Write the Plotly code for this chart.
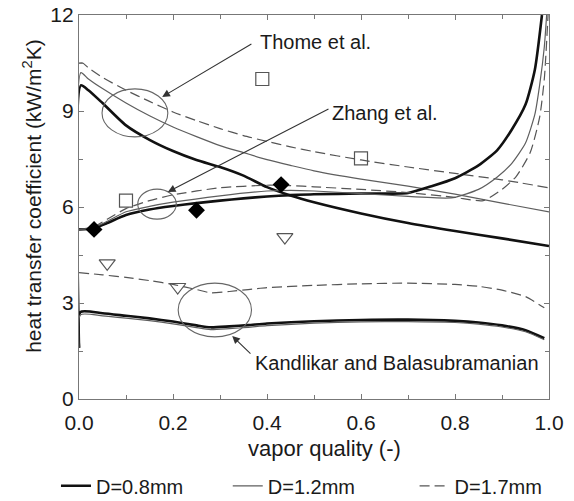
import plotly.graph_objects as go

# ---------------- data ----------------
# Thome et al.
thome_x_08 = [0.0, 0.004, 0.02, 0.05, 0.1, 0.15, 0.2, 0.25, 0.3, 0.35, 0.4, 0.45, 0.5, 0.6, 0.7, 0.8, 0.9, 1.0]
thome_y_08 = [1.6, 9.8, 9.65, 9.25, 8.55, 8.1, 7.75, 7.47, 7.25, 6.98, 6.62, 6.36, 6.15, 5.8, 5.5, 5.25, 5.02, 4.78]
thome_x_12 = [0.0, 0.004, 0.02, 0.05, 0.1, 0.15, 0.2, 0.25, 0.3, 0.35, 0.4, 0.45, 0.5, 0.6, 0.7, 0.8, 0.9, 1.0]
thome_y_12 = [1.7, 10.2, 10.0, 9.7, 9.25, 8.85, 8.5, 8.2, 7.92, 7.7, 7.48, 7.3, 7.13, 6.87, 6.65, 6.4, 6.12, 5.85]
thome_x_17 = [0.0, 0.008, 0.02, 0.05, 0.1, 0.15, 0.2, 0.25, 0.3, 0.35, 0.4, 0.45, 0.5, 0.6, 0.7, 0.8, 0.9, 1.0]
thome_y_17 = [10.5, 10.5, 10.35, 10.05, 9.65, 9.3, 8.97, 8.7, 8.45, 8.23, 8.05, 7.88, 7.73, 7.47, 7.25, 7.05, 6.85, 6.6]

# Zhang et al.
zhang_x_08 = [0.0, 0.03, 0.06, 0.1, 0.15, 0.2, 0.25, 0.3, 0.35, 0.4, 0.45, 0.5, 0.6, 0.7, 0.75, 0.8, 0.85, 0.89, 0.92, 0.95, 0.97, 0.985]
zhang_y_08 = [5.3, 5.33, 5.5, 5.75, 5.92, 6.03, 6.12, 6.2, 6.27, 6.33, 6.37, 6.4, 6.42, 6.44, 6.65, 6.9, 7.3, 7.78, 8.4, 9.2, 10.3, 12.0]
zhang_x_12 = [0.0, 0.03, 0.06, 0.1, 0.15, 0.2, 0.3, 0.4, 0.45, 0.5, 0.6, 0.7, 0.78, 0.8, 0.85, 0.89, 0.92, 0.95, 0.97, 0.98, 0.99, 0.995]
zhang_y_12 = [5.3, 5.35, 5.55, 5.85, 6.02, 6.15, 6.35, 6.5, 6.52, 6.5, 6.42, 6.33, 6.28, 6.3, 6.55, 6.94, 7.35, 8.0, 8.9, 9.8, 11.0, 12.0]
zhang_x_17 = [0.0, 0.03, 0.06, 0.1, 0.15, 0.2, 0.3, 0.4, 0.45, 0.5, 0.6, 0.7, 0.8, 0.86, 0.9, 0.93, 0.96, 0.98, 0.99, 0.998]
zhang_y_17 = [5.3, 5.37, 5.62, 5.95, 6.2, 6.38, 6.6, 6.68, 6.67, 6.63, 6.55, 6.45, 6.3, 6.2, 6.55, 6.95, 7.7, 8.8, 10.0, 12.0]

# Kandlikar and Balasubramanian
kand_x_08 = [0.0, 0.003, 0.05, 0.1, 0.15, 0.2, 0.25, 0.28, 0.32, 0.36, 0.4, 0.5, 0.6, 0.7, 0.8, 0.85, 0.9, 0.95, 0.99]
kand_y_08 = [1.6, 2.72, 2.68, 2.6, 2.52, 2.42, 2.3, 2.24, 2.27, 2.31, 2.36, 2.43, 2.47, 2.48, 2.44, 2.39, 2.3, 2.15, 1.9]
kand_x_12 = [0.0, 0.003, 0.05, 0.1, 0.15, 0.2, 0.25, 0.28, 0.32, 0.36, 0.4, 0.5, 0.6, 0.7, 0.8, 0.85, 0.9, 0.95, 0.99]
kand_y_12 = [1.6, 2.63, 2.6, 2.53, 2.45, 2.35, 2.23, 2.17, 2.2, 2.24, 2.29, 2.37, 2.41, 2.42, 2.39, 2.34, 2.25, 2.1, 1.85]
kand_x_17 = [0.0, 0.05, 0.1, 0.15, 0.2, 0.25, 0.28, 0.32, 0.36, 0.4, 0.5, 0.6, 0.7, 0.8, 0.85, 0.9, 0.95, 0.99]
kand_y_17 = [3.95, 3.88, 3.8, 3.7, 3.58, 3.42, 3.32, 3.36, 3.42, 3.48, 3.55, 3.6, 3.62, 3.58, 3.52, 3.4, 3.2, 2.85]

# Experimental points
exp_sq_x = [0.1, 0.39, 0.6]
exp_sq_y = [6.2, 10.0, 7.52]
exp_dia_x = [0.032, 0.25, 0.43]
exp_dia_y = [5.3, 5.9, 6.7]
exp_tri_x = [0.06, 0.21, 0.438]
exp_tri_y = [4.24, 3.5, 5.06]

x_ticks = [0.0, 0.2, 0.4, 0.6, 0.8, 1.0]
y_ticks = [0, 3, 6, 9, 12]

# ---------------- styles ----------------
FONT = "Liberation Sans, Arial, sans-serif"
TXT = "#1a1a1a"
styles = {
    "08": dict(color="#111111", width=2.6, dash="solid"),
    "12": dict(color="#5e5e5e", width=1.2, dash="solid"),
    "17": dict(color="#555555", width=1.2, dash="10px,5px"),
}
legend_names = {"08": "D=0.8mm", "12": "D=1.2mm", "17": "D=1.7mm"}
legend_ids = {"08": "legend", "12": "legend2", "17": "legend3"}

fig = go.Figure()

series = [
    ("08", thome_x_08, thome_y_08, True),
    ("12", thome_x_12, thome_y_12, True),
    ("17", thome_x_17, thome_y_17, True),
    ("08", zhang_x_08, zhang_y_08, False),
    ("12", zhang_x_12, zhang_y_12, False),
    ("17", zhang_x_17, zhang_y_17, False),
    ("08", kand_x_08, kand_y_08, False),
    ("12", kand_x_12, kand_y_12, False),
    ("17", kand_x_17, kand_y_17, False),
]
for key, xs, ys, show in series:
    fig.add_trace(go.Scatter(
        x=xs, y=ys, mode="lines", line=dict(**styles[key], shape="spline", smoothing=0.6),
        name=legend_names[key], showlegend=show, legend=legend_ids[key],
        hoverinfo="skip"))

fig.add_trace(go.Scatter(x=exp_sq_x, y=exp_sq_y, mode="markers", showlegend=False,
                         marker=dict(symbol="square-open", size=13, color="#555555", line=dict(width=1.2))))
fig.add_trace(go.Scatter(x=exp_dia_x, y=exp_dia_y, mode="markers", showlegend=False,
                         marker=dict(symbol="diamond", size=13, color="#000000")))
fig.add_trace(go.Scatter(x=exp_tri_x, y=exp_tri_y, mode="markers", showlegend=False,
                         marker=dict(symbol="triangle-down-open", size=14, color="#555555", line=dict(width=1.2))))

# ellipses (center x, center y, half width, half height)
ellipses = [(0.119, 8.94, 0.07, 0.75), (0.166, 6.09, 0.041, 0.47), (0.289, 2.78, 0.078, 0.84)]
for cx, cy, rx, ry in ellipses:
    fig.add_shape(type="circle", xref="x", yref="y", x0=cx - rx, x1=cx + rx, y0=cy - ry, y1=cy + ry,
                  line=dict(color="#666666", width=1.1))

# arrows (tail x, tail y, head x, head y)
arrows = [(0.370, 11.12, 0.177, 9.44), (0.534, 9.09, 0.189, 6.47), (0.368, 1.375, 0.326, 1.97)]
for tx, ty, hx, hy in arrows:
    fig.add_annotation(x=hx, y=hy, ax=tx, ay=ty, xref="x", yref="y", axref="x", ayref="y",
                       text="", showarrow=True, arrowhead=2, arrowsize=1.4, arrowwidth=1.1,
                       arrowcolor="#333333", standoff=0)

labels = [("Thome et al.", 0.381, 11.16), ("Zhang et al.", 0.534, 8.94),
          ("Kandlikar and Balasubramanian", 0.370, 1.125)]
for t, x, y in labels:
    fig.add_annotation(x=x, y=y, xref="x", yref="y", text=t, showarrow=False,
                       xanchor="left", yanchor="middle", font=dict(size=20, family=FONT, color=TXT))

# axis titles
fig.add_annotation(x=-0.10, y=0.529, xref="paper", yref="paper", text="heat transfer coefficient (kW/m<sup>2</sup>K)",
                   textangle=-90, showarrow=False, xanchor="center", yanchor="middle",
                   font=dict(size=21, family=FONT, color=TXT))
fig.add_annotation(x=0.523, y=-0.13, xref="paper", yref="paper", text="vapor quality (-)",
                   showarrow=False, xanchor="center", yanchor="middle",
                   font=dict(size=22, family=FONT, color=TXT))

axis_common = dict(showline=True, linecolor="#777777", linewidth=1.2, mirror="allticks",
                   ticks="inside", ticklen=5, tickcolor="#777777", showgrid=False, zeroline=False,
                   tickfont=dict(size=21, family=FONT, color=TXT))
fig.update_xaxes(range=[0, 1], tickvals=x_ticks, ticktext=[f"{v:.1f}" for v in x_ticks],
                 ticklabelstandoff=5,
                 minor=dict(dtick=0.1, ticks="inside", ticklen=4, tickcolor="#777777"), **axis_common)
fig.update_yaxes(range=[0, 12], tickvals=y_ticks,
                 minor=dict(dtick=1.5, ticks="inside", ticklen=4, tickcolor="#777777"), **axis_common)

leg_common = dict(orientation="h", yanchor="middle", xanchor="left", y=-0.226,
                  font=dict(size=20, family=FONT, color=TXT), bgcolor="rgba(0,0,0,0)")
fig.update_layout(
    width=574, height=501,
    margin=dict(l=79, r=25, t=15, b=102, autoexpand=False),
    paper_bgcolor="white", plot_bgcolor="white",
    legend=dict(x=-0.049, **leg_common),
    legend2=dict(x=0.3165, **leg_common),
    legend3=dict(x=0.714, **leg_common),
)

fig.write_html("out.html")
